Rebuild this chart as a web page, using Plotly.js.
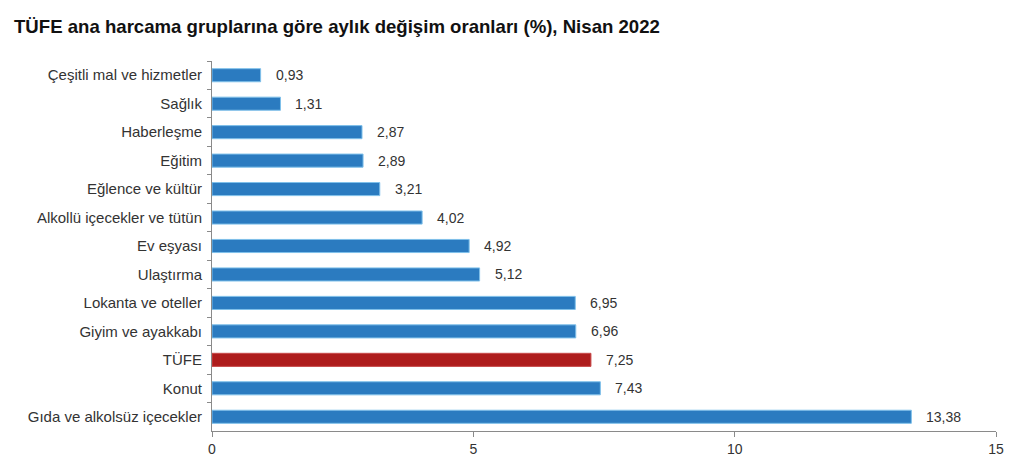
<!DOCTYPE html>
<html>
<head>
<meta charset="utf-8">
<script src="https://cdn.plot.ly/plotly-3.0.1.min.js"></script>
<style>html,body{margin:0;padding:0;background:#fff;}#chart{width:1024px;height:470px;}</style>
</head>
<body>
<div id="chart"></div>
<script>
const categories = ["Çeşitli mal ve hizmetler","Sağlık","Haberleşme","Eğitim","Eğlence ve kültür","Alkollü içecekler ve tütün","Ev eşyası","Ulaştırma","Lokanta ve oteller","Giyim ve ayakkabı","TÜFE","Konut","Gıda ve alkolsüz içecekler"];
const values = [0.93,1.31,2.87,2.89,3.21,4.02,4.92,5.12,6.95,6.96,7.25,7.43,13.38];
const labels = ["0,93","1,31","2,87","2,89","3,21","4,02","4,92","5,12","6,95","6,96","7,25","7,43","13,38"];
const xTicks = [0,5,10,15];
const highlight = "TÜFE";

const FONT = "Liberation Sans, Arial, sans-serif";
const colors = categories.map(c => c === highlight ? "#ae1c1c" : "#2b7bc0");
const trace = {
  type: "bar", orientation: "h",
  x: values, y: categories,
  marker: {color: colors, line: {color: categories.map(c => c === highlight ? "#c84a4a" : "#7fc0ea"), width: 1}},
  width: 0.46,
  hoverinfo: "none"
};
const annotations = categories.map((c,i) => ({
  x: values[i], y: c, xref: "x", yref: "y", text: labels[i],
  showarrow: false, xanchor: "left", xshift: 13, yshift: 0,
  font: {family: FONT, size: 14, color: "#333"}
}));
const layout = {
  width: 1024, height: 470,
  margin: {l: 212, r: 28, t: 61, b: 39},
  paper_bgcolor: "#fff", plot_bgcolor: "#fff",
  title: {text: "<b>TÜFE ana harcama gruplarına göre aylık değişim oranları (%), Nisan 2022</b>",
          x: 0.0137, xanchor: "left", y: 0.943, yanchor: "middle",
          font: {family: FONT, size: 18.6, color: "#111"}},
  xaxis: {range: [0, 15], tickvals: xTicks, ticktext: xTicks.map(String),
          showgrid: false, zeroline: false, showline: true, linecolor: "#8a8a8a", linewidth: 1,
          ticks: "outside", ticklen: 5, tickcolor: "#8a8a8a",
          tickfont: {family: FONT, size: 14, color: "#333"}, fixedrange: true},
  yaxis: {type: "category", autorange: "reversed", showgrid: false, zeroline: false,
          showline: true, linecolor: "#8a8a8a", linewidth: 1,
          ticks: "outside", ticklen: 4, tickcolor: "#8a8a8a", tickson: "boundaries", ticklabelstandoff: 6,
          tickfont: {family: FONT, size: 15, color: "#333"}, fixedrange: true},
  annotations: annotations,
  showlegend: false
};
Plotly.newPlot("chart", [trace], layout, {displayModeBar: false, staticPlot: true});
</script>
</body>
</html>
